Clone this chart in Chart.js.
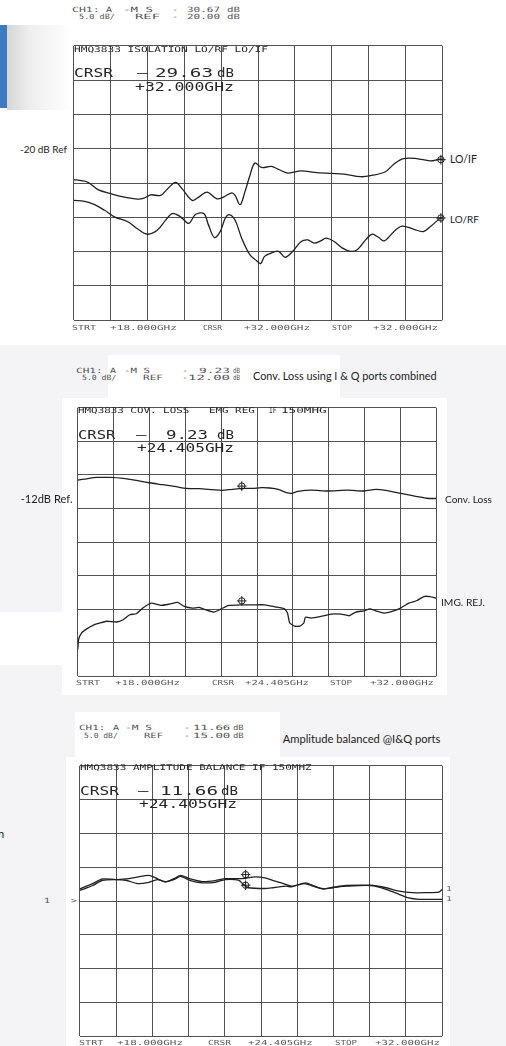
<!DOCTYPE html>
<html><head><meta charset="utf-8">
<script src="https://cdn.jsdelivr.net/npm/chart.js@4.4.1/dist/chart.umd.min.js"></script>
<style>
html,body{margin:0;padding:0;}
body{width:506px;height:1046px;position:relative;overflow:hidden;background:#fff;}
.bg{position:absolute;}
canvas{position:absolute;}
.t{position:absolute;white-space:pre;line-height:1;transform:translateY(-50%);transform-origin:0 50%;}
.hdr{font-family:'DejaVu Sans Mono';font-size:7.2px;color:#555;}
.ttl{font-family:'DejaVu Sans Mono';font-size:7.9px;color:#262626;}
.big{font-family:'DejaVu Sans Mono';font-size:12.4px;color:#262626;}
.foot{font-family:'DejaVu Sans Mono';font-size:7px;color:#5a5a5a;}
.note{font-family:'Lato';font-size:11px;color:#222;}
</style></head><body>
<div class="bg" style="left:0;top:345px;width:506px;height:701px;background:#f4f4f6"></div>
<div class="bg" style="left:108px;top:355px;width:232px;height:45px;background:#fff"></div>
<div class="bg" style="left:62px;top:398px;width:385px;height:297px;background:#fff"></div>
<div class="bg" style="left:0;top:612px;width:75px;height:53px;background:#fff"></div>
<div class="bg" style="left:75px;top:712px;width:205px;height:48px;background:#fff"></div>
<div class="bg" style="left:66px;top:757px;width:384px;height:289px;background:#fff"></div>
<div class="bg" style="left:7px;top:25px;width:65px;height:85px;background:linear-gradient(to right,#d6d6d6,#eeeeee 35%,rgba(255,255,255,0))"></div>
<div class="bg" style="left:0;top:25px;width:7px;height:83px;background:#3c7bbf"></div>
<canvas id="c1"></canvas>
<canvas id="c2"></canvas>
<canvas id="c3"></canvas>
<script>
// ---- shared axis grid (GHz) ----
const xGridGHz = [18, 19.4, 20.8, 22.2, 23.6, 25, 26.4, 27.8, 29.2, 30.6, 32];

// ---- Plot 1 : isolation (dB) ----
const isoGridDb = [-45, -40, -35, -30, -25, -20, -15, -10, -5];
const loIfFreq = [18.0, 18.29, 18.54, 18.92, 19.42, 19.92, 20.43, 20.67, 20.93, 21.30, 21.56, 21.87, 22.12, 22.50, 22.75, 23.06, 23.44, 23.69, 24.0, 24.13, 24.32, 24.50, 24.69, 24.88, 25.13, 25.51, 25.76, 26.14, 26.64, 27.14, 27.77, 28.27, 28.90, 29.28, 29.84, 30.16, 30.53, 31.03, 31.54, 31.91, 32.0];
const loIfDb = [-24.5, -24.66, -24.9, -25.96, -26.58, -27.06, -27.34, -27.2, -26.72, -26.82, -25.86, -24.9, -25.86, -27.54, -27.05, -26.33, -27.3, -27.05, -26.43, -26.82, -28.16, -26.33, -23.94, -22.1, -22.73, -22.59, -22.98, -23.55, -23.22, -23.45, -23.6, -23.7, -24.08, -23.94, -23.36, -22.26, -21.44, -21.44, -21.78, -21.54, -21.6];
const loRfFreq = [18.0, 18.41, 18.79, 19.17, 19.54, 20.05, 20.43, 20.80, 21.18, 21.49, 21.74, 22.06, 22.37, 22.62, 22.94, 23.12, 23.34, 23.56, 23.75, 23.90, 24.13, 24.38, 24.69, 24.94, 25.10, 25.25, 25.51, 25.78, 26.03, 26.32, 26.64, 26.89, 27.14, 27.39, 27.58, 27.89, 28.21, 28.52, 28.77, 29.09, 29.34, 29.59, 29.80, 30.16, 30.47, 30.90, 31.28, 31.59, 31.91, 32.0];
const loRfDb = [-27.54, -27.68, -28.16, -28.98, -29.93, -30.65, -31.71, -32.47, -31.86, -30.42, -29.45, -29.93, -30.89, -29.6, -29.45, -31.14, -32.95, -32.09, -30.17, -29.6, -30.42, -33.05, -35.45, -36.31, -36.75, -35.7, -35.2, -34.96, -35.83, -34.96, -33.53, -33.29, -33.77, -33.44, -33.05, -33.53, -34.49, -34.96, -34.73, -33.29, -32.47, -32.95, -33.44, -32.09, -31.28, -31.71, -32.09, -31.22, -30.17, -30.05];
const isoMarkFreq = [31.95, 31.95];
const isoMarkDb = [-21.6, -30.1];

// ---- Plot 2 : conversion loss / image rejection (dB) ----
const convGridDb = [-37, -32, -27, -22, -17, -12, -7, -2, 3];
const convFreq = [18.0, 18.35, 18.74, 19.26, 19.77, 20.29, 20.80, 21.32, 21.84, 22.22, 22.74, 23.26, 23.64, 24.03, 24.42, 24.81, 25.19, 25.5, 25.83, 26.15, 26.34, 26.60, 27.12, 27.76, 28.54, 29.18, 29.64, 30.02, 30.61, 31.25, 31.64, 32.0];
const convDb = [-7.78, -7.58, -7.38, -7.38, -7.53, -7.83, -8.17, -8.46, -8.76, -9.01, -9.05, -9.2, -9.3, -9.15, -9.01, -9.01, -8.9, -8.95, -9.15, -9.64, -9.74, -9.45, -9.26, -9.4, -9.26, -9.4, -9.15, -9.3, -9.74, -10.23, -10.48, -10.52];
const imgFreq = [18.0, 18.03, 18.15, 18.35, 18.61, 18.87, 19.12, 19.51, 19.77, 20.03, 20.29, 20.54, 20.87, 21.25, 21.58, 21.9, 22.16, 22.48, 22.74, 23.0, 23.32, 23.58, 23.9, 24.42, 24.87, 25.31, 25.70, 26.08, 26.19, 26.28, 26.47, 26.67, 26.83, 26.89, 27.12, 27.50, 27.89, 28.28, 28.60, 28.86, 29.18, 29.41, 29.64, 29.96, 30.28, 30.61, 30.93, 31.25, 31.51, 31.76, 32.0];
const imgDb = [-33.0, -31.53, -30.54, -29.95, -29.4, -29.07, -28.81, -28.92, -28.58, -27.84, -27.69, -26.85, -26.11, -26.45, -26.26, -26.01, -26.6, -26.85, -26.75, -27.1, -27.44, -27.0, -26.45, -26.36, -26.36, -26.36, -26.66, -26.96, -27.59, -29.07, -29.55, -29.55, -29.07, -28.22, -28.33, -28.08, -27.74, -27.74, -27.99, -27.44, -27.25, -26.96, -27.25, -27.59, -27.34, -26.85, -26.11, -25.72, -25.13, -25.13, -25.38];
const convMarkFreq = [24.405, 24.405];
const convMarkDb = [-8.67, -25.78];

// ---- Plot 3 : amplitude balance (dB) ----
const balGridDb = [-35, -30, -25, -20, -15, -10, -5, 0, 5];
const balIFreq = [18.0, 18.5, 18.88, 19.39, 19.78, 20.16, 20.67, 20.93, 21.31, 21.70, 21.89, 22.27, 22.72, 23.23, 23.62, 24.26, 24.77, 25.15, 25.47, 25.86, 26.18, 26.69, 27.01, 27.39, 27.78, 28.29, 29.31, 29.83, 30.34, 30.85, 31.36, 31.87, 32.0];
const balIDb = [-13.19, -12.42, -11.73, -11.83, -11.73, -11.5, -11.2, -11.58, -12.17, -11.58, -11.2, -11.73, -12.12, -11.98, -11.69, -11.69, -11.44, -11.58, -11.98, -12.42, -12.81, -12.42, -12.81, -13.19, -12.96, -12.71, -12.71, -13.04, -13.54, -13.77, -13.77, -13.69, -13.29];
const balQFreq = [18.0, 18.5, 18.88, 19.39, 19.78, 20.23, 20.67, 20.99, 21.31, 21.70, 21.89, 22.27, 22.72, 23.23, 23.62, 24.13, 24.32, 24.51, 25.15, 25.47, 25.99, 26.18, 26.73, 27.01, 27.39, 27.78, 28.29, 29.31, 29.83, 30.34, 30.66, 31.11, 32.0];
const balQDb = [-13.44, -12.71, -11.93, -11.83, -11.93, -12.42, -12.23, -11.83, -12.17, -11.73, -11.35, -11.98, -12.31, -12.23, -11.83, -11.93, -12.56, -13.04, -13.15, -13.04, -12.81, -12.9, -12.31, -12.71, -13.19, -13.04, -12.81, -12.71, -13.29, -14.02, -14.5, -14.75, -14.75];
const balMarkFreq = [24.405, 24.405];
const balMarkDb = [-11.1, -12.66];

// ---- drawing ----
const INK = '#202020';
const GRID = '#525252';
function pts(fx, fy){ return fx.map((f,i)=>({x:f, y:fy[i]})); }
function trace(fx, fy, tension){
  return {data:pts(fx,fy), borderColor:INK, borderWidth:1.3, pointRadius:0, tension:tension, fill:false};
}
function marks(fx, fy){
  return [
    {data:pts(fx,fy), showLine:false, pointStyle:'circle', pointRadius:3.2, pointBorderWidth:1, pointBorderColor:INK, pointBackgroundColor:'rgba(0,0,0,0)', clip:false},
    {data:pts(fx,fy), showLine:false, pointStyle:'cross', pointRadius:4.8, pointBorderWidth:1, pointBorderColor:INK, clip:false}
  ];
}
function makePlot(id, box, yGrid, datasets){
  const c = document.getElementById(id);
  const L = Math.floor(box.l) - 4, T = Math.floor(box.t) - 4;
  const R = Math.ceil(box.r) + 4, B = Math.ceil(box.b) + 4;
  c.width = R - L; c.height = B - T;
  c.style.left = L + 'px'; c.style.top = T + 'px';
  c.style.width = (R - L) + 'px'; c.style.height = (B - T) + 'px';
  const axis = (vals) => ({
    type:'linear', min:vals[0], max:vals[vals.length-1],
    afterBuildTicks: s => { s.ticks = vals.map(v => ({value:v})); },
    ticks:{display:false}, border:{display:false},
    grid:{color:GRID, lineWidth:1, drawTicks:false}
  });
  new Chart(c, {
    type:'line',
    data:{datasets:datasets},
    options:{
      responsive:false, animation:false, devicePixelRatio:1,
      layout:{padding:{left:box.l-L, top:box.t-T, right:R-box.r, bottom:B-box.b}},
      plugins:{legend:{display:false}, tooltip:{enabled:false}},
      scales:{x:axis(xGridGHz), y:axis(yGrid)}
    }
  });
}
makePlot('c1', {l:72.3, t:44.3, r:444, b:321.7}, isoGridDb,
  [trace(loIfFreq, loIfDb, 0.35), trace(loRfFreq, loRfDb, 0.35)].concat(marks(isoMarkFreq, isoMarkDb)));
makePlot('c2', {l:76.3, t:406.7, r:437.7, b:677.5}, convGridDb,
  [trace(convFreq, convDb, 0.25), trace(imgFreq, imgDb, 0.15)].concat(marks(convMarkFreq, convMarkDb)));
makePlot('c3', {l:78.7, t:764, r:443.3, b:1038}, balGridDb,
  [trace(balIFreq, balIDb, 0.25), trace(balQFreq, balQDb, 0.25)].concat(marks(balMarkFreq, balMarkDb)));

// ---- text ----
// x2 given: stretch glyphs horizontally (mono) or scale font (note) so the text spans x..x2
function put(text, cls, x, y, x2){
  const d = document.createElement('div');
  d.className = 't ' + cls; d.textContent = text;
  d.style.left = x + 'px'; d.style.top = y + 'px';
  document.body.appendChild(d);
  if (x2 !== undefined) {
    const w = d.getBoundingClientRect().width;
    if (cls === 'note') {
      const fs = parseFloat(getComputedStyle(d).fontSize);
      d.style.fontSize = (fs * (x2 - x) / w) + 'px';
    } else {
      d.style.transform = 'translateY(-50%) scaleX(' + ((x2 - x) / w) + ')';
    }
  } else if (cls !== 'note') {
    d.style.transform = 'translateY(-50%) scaleX(1.4)';
  }
}
// plot 1
put('CH1:', 'hdr', 72.3, 10, 100); put('A', 'hdr', 106, 10); put('-M S', 'hdr', 123, 10, 153);
put('-', 'hdr', 172, 10); put('30.67', 'hdr', 187, 10, 220); put('dB', 'hdr', 227, 10, 240);
put('5.0 dB/', 'hdr', 79, 17, 115); put('REF', 'hdr', 135, 17, 160);
put('-', 'hdr', 172, 17); put('20.00', 'hdr', 187, 17, 220); put('dB', 'hdr', 227, 17, 240);
put('HMQ3833 ISOLATION LO/RF LO/IF', 'ttl', 74, 50, 268);
put('CRSR', 'big', 74, 73, 113); put('\u2013', 'big', 137, 72.5); put('29.63', 'big', 155, 73, 213); put('dB', 'big', 217, 73, 234);
put('+32.000GHz', 'big', 135, 87, 234);
put('STRT', 'foot', 72, 328, 96); put('+18.000GHz', 'foot', 110, 328, 177);
put('CRSR', 'foot', 203, 328, 222); put('+32.000GHz', 'foot', 244, 328, 310);
put('STOP', 'foot', 332, 328, 352); put('+32.000GHz', 'foot', 373, 328, 438);
put('-20 dB Ref', 'note', 20, 149, 67);
put('LO/IF', 'note', 450, 159, 477);
put('LO/RF', 'note', 450, 220, 479);
// plot 2
put('CH1:', 'hdr', 76.3, 371.3, 103); put('A', 'hdr', 110, 371.3); put('-M S', 'hdr', 124, 371.3, 150);
put('-', 'hdr', 182, 371.3); put('9.23', 'hdr', 199, 371.3, 230); put('dB', 'hdr', 233, 371.3, 240);
put('5.0 dB/', 'hdr', 81.7, 378.3, 116); put('REF', 'hdr', 143, 378.3, 163);
put('-', 'hdr', 182, 378.3); put('12.00', 'hdr', 188, 378.3, 230); put('dB', 'hdr', 233, 378.3, 240);
put('Conv. Loss using I & Q ports combined', 'note', 253, 375.7, 437);
put('HMQ3833 COV. LOSS', 'ttl', 77.7, 411, 189); put('EMG REG', 'ttl', 209.3, 411, 255);
put('IF', 'ttl', 269.3, 411, 277); put('150MHG', 'ttl', 281, 411, 326.7);
put('CRSR', 'big', 77.7, 435, 115); put('\u2013', 'big', 136, 434.5); put('9.23', 'big', 166, 435, 208); put('dB', 'big', 217, 435, 234);
put('+24.405GHz', 'big', 137.3, 448, 234.3);
put('STRT', 'foot', 76, 683, 100); put('+18.000GHz', 'foot', 115, 683, 180);
put('CRSR', 'foot', 212, 683, 234); put('+24.405GHz', 'foot', 245, 683, 309);
put('STOP', 'foot', 330, 683, 352); put('+32.000GHz', 'foot', 370, 683, 434);
put('-12dB Ref.', 'note', 20.7, 499, 72.7);
put('Conv. Loss', 'note', 445, 499, 492);
put('IMG. REJ.', 'note', 441, 602, 485);
// plot 3
put('CH1:', 'hdr', 78.7, 728, 105); put('A', 'hdr', 112.7, 728); put('-M S', 'hdr', 125, 728, 152);
put('-', 'hdr', 184, 728); put('11.66', 'hdr', 192.7, 728, 230); put('dB', 'hdr', 233.3, 728, 244);
put('5.0 dB/', 'hdr', 84.3, 735.7, 118); put('REF', 'hdr', 144, 735.7, 163);
put('-', 'hdr', 184, 735.7); put('15.00', 'hdr', 192.7, 735.7, 230); put('dB', 'hdr', 233.3, 735.7, 244);
put('Amplitude balanced @I&Q ports', 'note', 282.7, 739, 440.7);
put('HMQ3833 AMPLITUDE BALANCE IF 150MHZ', 'ttl', 80, 768, 311.7);
put('CRSR', 'big', 80, 791, 119); put('\u2013', 'big', 138, 790.5); put('11.66', 'big', 160, 791, 218); put('dB', 'big', 221, 791, 238);
put('+24.405GHz', 'big', 139.3, 804, 237.3);
put('STRT', 'foot', 78.7, 1043, 103); put('+18.000GHz', 'foot', 116.7, 1043, 182.7);
put('CRSR', 'foot', 208, 1043, 231); put('+24.405GHz', 'foot', 248, 1043, 312.7);
put('STOP', 'foot', 335, 1043, 357); put('+32.000GHz', 'foot', 375, 1043, 440);
put('1', 'hdr', 44, 901); put('>', 'hdr', 71, 901);
put('1', 'foot', 446, 889); put('1', 'foot', 446, 898.5);
put('n', 'note', -2, 833);
</script>
</body></html>
